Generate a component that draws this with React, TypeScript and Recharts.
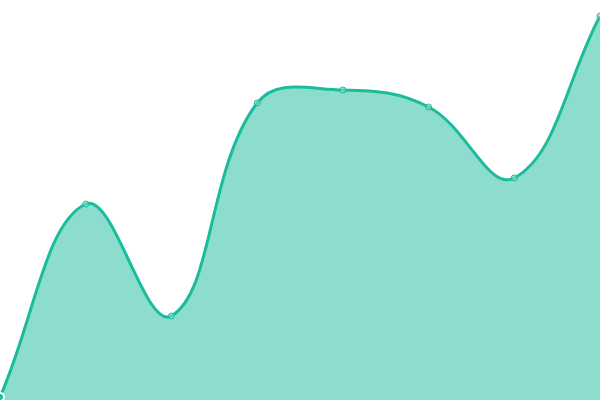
import React from 'react';
import { AreaChart, Area, XAxis, YAxis } from 'recharts';

// ============================================================================
// Data
// ============================================================================

const categories = ['A', 'B', 'C', 'D', 'E', 'F', 'G', 'H'];
const values = [3, 196, 84, 297, 310, 293, 222, 384];

const chartData = categories.map((name, i) => ({ name, value: values[i] }));

const LINE_COLOR = '#1abc9c';
const TENSION = 0.4;

// ============================================================================
// Custom curve (distance-weighted cardinal spline, like Chart.js tension)
// ============================================================================

class TensionCurve {
  _context: any;
  _line: number = NaN;
  _xs: number[] = [];
  _ys: number[] = [];

  constructor(context: any) {
    this._context = context;
  }
  areaStart() {
    this._line = 0;
  }
  areaEnd() {
    this._line = NaN;
  }
  lineStart() {
    this._xs = [];
    this._ys = [];
  }
  point(x: number, y: number) {
    this._xs.push(+x);
    this._ys.push(+y);
  }
  lineEnd() {
    const xs = this._xs;
    const ys = this._ys;
    const n = xs.length;
    const ctx = this._context;

    if (n) {
      if (this._line) ctx.lineTo(xs[0], ys[0]);
      else ctx.moveTo(xs[0], ys[0]);

      const cps = xs.map((_, i) => {
        const pi = Math.max(i - 1, 0);
        const ni = Math.min(i + 1, n - 1);
        const d01 = Math.hypot(xs[i] - xs[pi], ys[i] - ys[pi]);
        const d12 = Math.hypot(xs[ni] - xs[i], ys[ni] - ys[i]);
        const sum = d01 + d12 || 1;
        const fa = (TENSION * d01) / sum;
        const fb = (TENSION * d12) / sum;
        const dx = xs[ni] - xs[pi];
        const dy = ys[ni] - ys[pi];
        return {
          px: xs[i] - fa * dx,
          py: ys[i] - fa * dy,
          nx: xs[i] + fb * dx,
          ny: ys[i] + fb * dy,
        };
      });

      for (let i = 1; i < n; i++) {
        ctx.bezierCurveTo(cps[i - 1].nx, cps[i - 1].ny, cps[i].px, cps[i].py, xs[i], ys[i]);
      }
    }

    if (this._line || (this._line !== 0 && n === 1)) ctx.closePath();
    this._line = 1 - this._line;
  }
}

const tensionCurve = (context: any) => new TensionCurve(context);

export default function App() {
  return (
    <div style={{ position: 'fixed', left: 0, top: 0, width: 600, height: 400, background: '#fff' }}>
      <AreaChart
        width={600}
        height={400}
        data={chartData}
        margin={{ top: 0, right: 0, left: 0, bottom: 0 }}
      >
        <XAxis dataKey="name" hide padding={{ left: 0, right: 0 }} />
        <YAxis hide domain={[0, 400]} />
        <Area
          type={tensionCurve as any}
          dataKey="value"
          stroke={LINE_COLOR}
          strokeWidth={3}
          fill={LINE_COLOR}
          fillOpacity={0.5}
          dot={{ r: 3, fill: '#8ce0cf', stroke: LINE_COLOR, strokeWidth: 1 }}
          isAnimationActive={false}
        />
      </AreaChart>
    </div>
  );
}
